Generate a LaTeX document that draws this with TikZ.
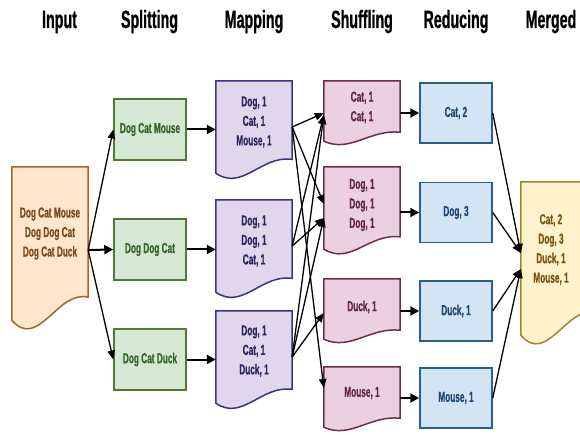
\documentclass[tikz,border=0pt]{standalone}
\usepackage{fontspec}
\newfontfamily\cond[FakeStretch=0.57,FakeBold=0.6]{Liberation Sans}
\usetikzlibrary{arrows.meta,calc}
\definecolor{inF}{HTML}{FFE6CC}\definecolor{inD}{HTML}{A0662A}\definecolor{inT}{HTML}{7A4A1E}
\definecolor{spF}{HTML}{D5E8D4}\definecolor{spD}{HTML}{4D7A38}\definecolor{spT}{HTML}{36632A}
\definecolor{mF}{HTML}{E0D7EC}\definecolor{mD}{HTML}{3B337F}\definecolor{mT}{HTML}{2A2660}
\definecolor{sF}{HTML}{EBD1DF}\definecolor{sD}{HTML}{6E2D4D}\definecolor{sT}{HTML}{642842}
\definecolor{rF}{HTML}{D3E4F5}\definecolor{rD}{HTML}{2E5F8C}\definecolor{rT}{HTML}{1C4873}
\definecolor{mgF}{HTML}{FFF2CC}\definecolor{mgD}{HTML}{A4842A}\definecolor{mgT}{HTML}{7A5412}
\newcommand\docshape[4]{%
  \draw[#4] (#1.north west) -- (#1.north east) -- ($(#1.south east)+(0,-0.15*#3)$)
    .. controls ($(#1.south west)+(0.6*#2,-0.2*#3)$) and ($(#1.south west)+(0.35*#2,0.2*#3)$) .. (#1.south west) -- cycle;}
\tikzset{
  title/.style={anchor=base, font=\cond\bfseries\fontsize{25}{25}\selectfont},
  shp/.style={draw=none, inner sep=0pt, rectangle},
  txt/.style={align=center, inner sep=0pt, font=\cond\bfseries\fontsize{14.5}{19.5}\selectfont},
  box/.style={draw, line width=1.5pt, inner sep=0pt, align=center, font=\cond\bfseries\fontsize{14.5}{19.5}\selectfont},
  spbox/.style={box, fill=spF, draw=spD, text=spT, minimum width=72pt, minimum height=61pt},
  rbox/.style={box, fill=rF, draw=rD, text=rT, minimum width=72pt, minimum height=60pt},
  thick arrow/.style={line width=2pt, -{Triangle[length=9pt,width=9pt]}},
  thin arrow/.style={line width=1.3pt, -{Triangle[length=9pt,width=7.5pt]}},
}
\begin{document}
\begin{tikzpicture}[x=1pt,y=-1pt]
\useasboundingbox (0,0) rectangle (580,435);
\fill[white] (0,0) rectangle (580,435);
\clip (0,0) rectangle (580,435);
% titles
\node[title] (t1) at (59.5,28) {Input};
\node[title] (t2) at (149.5,28) {Splitting};
\node[title] (t3) at (254,28) {Mapping};
\node[title] (t4) at (362,28) {Shuffling};
\node[title] (t5) at (456,28) {Reducing};
\node[title] (t6) at (551,28) {Merged};
% document shapes
\node[shp, minimum width=76pt, minimum height=153pt] (in) at (50,243.5) {};
\docshape{in}{76}{153}{fill=inF, draw=inD, line width=1.5pt}
\node[txt, text=inT] (in-t) at (50,233.5) {Dog Cat Mouse\\Dog Dog Cat\\Dog Cat Duck};
\node[shp, minimum width=76pt, minimum height=92pt] (m1) at (254,127) {};
\node[shp, minimum width=76pt, minimum height=92pt] (m2) at (254,246) {};
\node[shp, minimum width=76pt, minimum height=92pt] (m3) at (254,357) {};
\foreach \n in {m1,m2,m3}{\docshape{\n}{76}{92}{fill=mF, draw=mD, line width=1.5pt}}
\node[txt, text=mT] (m1-t) at (254,122) {Dog, 1\\Cat, 1\\Mouse, 1};
\node[txt, text=mT] (m2-t) at (254,241) {Dog, 1\\Dog, 1\\Cat, 1};
\node[txt, text=mT] (m3-t) at (254,351) {Dog, 1\\Cat, 1\\Duck, 1};
\node[shp, minimum width=76pt, minimum height=60pt] (s1) at (362,111) {};
\node[shp, minimum width=76pt, minimum height=82pt] (s2) at (362,208) {};
\node[shp, minimum width=76pt, minimum height=60pt] (s3) at (362,309) {};
\node[shp, minimum width=76pt, minimum height=60pt] (s4) at (362,397) {};
\docshape{s1}{76}{60}{fill=sF, draw=sD, line width=1.5pt}
\docshape{s2}{76}{82}{fill=sF, draw=sD, line width=1.5pt}
\docshape{s3}{76}{60}{fill=sF, draw=sD, line width=1.5pt}
\docshape{s4}{76}{60}{fill=sF, draw=sD, line width=1.5pt}
\node[txt, text=sT] (s1-t) at (362,107.5) {Cat, 1\\Cat, 1};
\node[txt, text=sT] (s2-t) at (362,205) {Dog, 1\\Dog, 1\\Dog, 1};
\node[txt, text=sT] (s3-t) at (362,307) {Duck, 1};
\node[txt, text=sT] (s4-t) at (362,393) {Mouse, 1};
\node[shp, minimum width=76pt, minimum height=153pt] (mg) at (559,258.5) {};
\docshape{mg}{76}{153}{fill=mgF, draw=mgD, line width=1.5pt}
\node[txt, text=mgT] (mg-t) at (551,249.5) {Cat, 2\\Dog, 3\\Duck, 1\\Mouse, 1};
% plain boxes
\node[spbox] (sp1) at (150,129.5) {Dog Cat Mouse};
\node[spbox] (sp2) at (150,249.5) {Dog Dog Cat};
\node[spbox] (sp3) at (150,359.5) {Dog Cat Duck};
\node[rbox] (r1) at (456,113) {Cat, 2};
\node[rbox] (r2) at (456,212.5) {Dog, 3};
\node[rbox] (r3) at (456,311) {Duck, 1};
\node[rbox] (r4) at (456,398) {Mouse, 1};
% arrows input -> splitting
\draw[thin arrow] ([yshift=-6.5pt]in.east) -- (sp1.west);
\draw[thick arrow] ([yshift=-6.5pt]in.east) -- (sp2.west);
\draw[thin arrow] ([yshift=-6.5pt]in.east) -- (sp3.west);
% splitting -> mapping
\draw[thick arrow] (sp1.east) -- (sp1.east -| m1.west);
\draw[thick arrow] (sp2.east) -- (sp2.east -| m2.west);
\draw[thick arrow] (sp3.east) -- (sp3.east -| m3.west);
% mapping -> shuffling
\draw[thin arrow] (m1.east) -- ([yshift=-2pt]s1.west);
\draw[thin arrow] (m1.east) -- ([yshift=4pt]s2.west);
\draw[thin arrow] (m1.east) -- ([yshift=9pt]s4.west);
\draw[thin arrow] (m2.east) -- ([yshift=-4pt]s1.west);
\draw[thin arrow] (m2.east) -- ([yshift=-10pt]s2.west);
\draw[thin arrow] (m3.east) -- ([yshift=-4pt]s1.west);
\draw[thin arrow] (m3.east) -- ([yshift=-10pt]s2.west);
\draw[thin arrow] (m3.east) -- ([yshift=-4pt]s3.west);
% shuffling -> reducing
\draw[thick arrow] (s1.east |- r1.west) -- (r1.west);
\draw[thick arrow] (s2.east |- r2.west) -- (r2.west);
\draw[thick arrow] (s3.east |- r3.west) -- (r3.west);
\draw[thick arrow] (s4.east |- r4.west) -- (r4.west);
% reducing -> merged
\draw[thin arrow] (r1.east) -- ([yshift=5.5pt]mg.west);
\draw[thin arrow] (r2.east) -- ([yshift=5.5pt]mg.west);
\draw[thin arrow] (r3.east) -- ([yshift=-10.5pt]mg.west);
\draw[thin arrow] (r4.east) -- ([yshift=-10.5pt]mg.west);
\end{tikzpicture}
\end{document}
